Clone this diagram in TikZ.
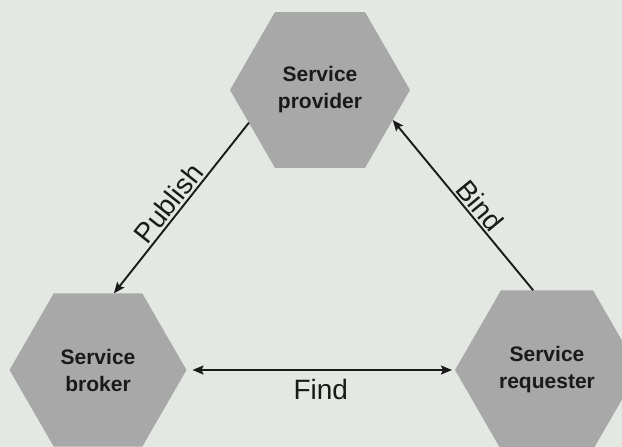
\documentclass[tikz,border=0pt]{standalone}
\usepackage{fontspec}
\setmainfont{Liberation Sans}
\usetikzlibrary{shapes.geometric,arrows.meta,calc}
\definecolor{paper}{HTML}{E3E8E3}
\definecolor{hexfill}{HTML}{A8A8A8}
\definecolor{ink}{HTML}{1A1A1A}
\begin{document}
\begin{tikzpicture}[x=1pt,y=-1pt,
  >={Stealth[length=11pt,width=9pt,inset=2pt]},
  role/.style={regular polygon, regular polygon sides=6, inner sep=0pt, outer sep=0pt,
    fill=hexfill, text=ink, align=center, font=\bfseries\fontsize{21}{27}\selectfont},
  flow/.style={draw=ink, line width=1.9pt},
  verb/.style={font=\fontsize{28}{32}\selectfont, text=ink}]
  % canvas
  \fill[paper] (0,0) rectangle (622,447);
  \useasboundingbox (0,0) rectangle (622,447);
  \clip (0,0) rectangle (622,447);

  % the three roles (corner 1 = top right, counting round anticlockwise)
  \node[role, minimum size=180pt] (provider) at (320,90) {Service\\provider};
  \node[role, minimum size=177pt] (broker) at (98,370) {Service\\broker};
  \node[role, minimum size=184pt] (requester) at (547,370) {Service\\requester};

  % interactions
  \draw[flow, ->]
    ($(provider.corner 3)!0.42!(provider.corner 4)$) --
    ($(broker.corner 2)!0.68!(broker.corner 1)$)
    node[verb, pos=0.52, sloped, above, inner sep=2pt] {Publish};
  \draw[flow, ->]
    ($(requester.corner 2)!0.35!(requester.corner 1)$) --
    ($(provider.corner 6)!0.385!(provider.corner 5)$)
    node[verb, pos=0.45, sloped, above, inner sep=2pt] {Bind};
  \draw[flow, <->, shorten <=6pt, shorten >=3pt]
    (broker.corner 6) -- (requester.corner 3)
    node[verb, midway, below=5pt] {Find};
\end{tikzpicture}
\end{document}
